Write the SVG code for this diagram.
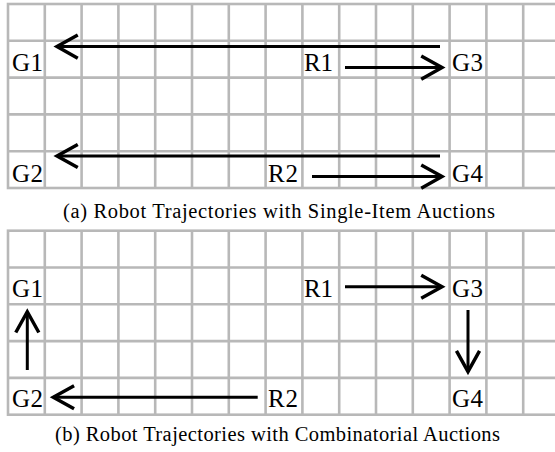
<svg xmlns="http://www.w3.org/2000/svg" width="555" height="452" viewBox="0 0 555 452">
  <style>
    .grid { fill: none; stroke: #b8b8b8; stroke-width: 2.6; }
    .arrow { fill: none; stroke: #000; stroke-width: 3; marker-end: url(#chev); }
  </style>
  <defs>
    <marker id="chev" markerUnits="userSpaceOnUse" markerWidth="30" markerHeight="30" viewBox="-22 -12 26 24" refX="0" refY="0" orient="auto">
      <path d="M-18,-10 L0,0 L-18,10" fill="none" stroke="#000" stroke-width="3" stroke-linejoin="miter"/>
    </marker>
    <!-- 15 x 5 cell board, 36.8 px cells -->
    <g id="board">
      <rect x="8" y="0" width="552" height="184" class="grid"/>
      <path class="grid" d="M44.8,0V184 M81.6,0V184 M118.4,0V184 M155.2,0V184 M192,0V184 M228.8,0V184 M265.6,0V184 M302.4,0V184 M339.2,0V184 M376,0V184 M412.8,0V184 M449.6,0V184 M486.4,0V184 M523.2,0V184 M8,36.8H560 M8,73.6H560 M8,110.4H560 M8,147.2H560"/>
    </g>
  </defs>
  <rect width="555" height="452" fill="#fff"/>

  <g font-family="Liberation Serif, Times New Roman, DejaVu Serif, serif" fill="#000">
    <!-- (a) single-item auctions -->
    <g id="gridA"><use href="#board" x="0" y="4"/></g>
    <g id="nodesA" font-size="25">
      <g id="a-G1"><text x="12" y="70.7" textLength="31">G1</text></g>
      <g id="a-R1"><text x="304" y="70.7" textLength="29">R1</text></g>
      <g id="a-G3"><text x="452" y="70.7" textLength="31">G3</text></g>
      <g id="a-G2"><text x="12" y="181.7" textLength="31">G2</text></g>
      <g id="a-R2"><text x="268" y="181.7" textLength="30">R2</text></g>
      <g id="a-G4"><text x="452" y="181.7" textLength="31">G4</text></g>
    </g>
    <g id="connectorsA">
      <path class="arrow" d="M440,46.6H57"/>
      <path class="arrow" d="M345,67.6H442"/>
      <path class="arrow" d="M440,156H57"/>
      <path class="arrow" d="M312,176.6H442"/>
    </g>
    <text x="63" y="218.3" font-size="20.5" textLength="432">(a) Robot Trajectories with Single-Item Auctions</text>

    <!-- (b) combinatorial auctions -->
    <g id="gridB"><use href="#board" x="0" y="230.7"/></g>
    <g id="nodesB" font-size="25">
      <g id="b-G1"><text x="12" y="296.7" textLength="31">G1</text></g>
      <g id="b-R1"><text x="304" y="296.7" textLength="29">R1</text></g>
      <g id="b-G3"><text x="452" y="296.7" textLength="31">G3</text></g>
      <g id="b-G2"><text x="12" y="407" textLength="31">G2</text></g>
      <g id="b-R2"><text x="268" y="407" textLength="30">R2</text></g>
      <g id="b-G4"><text x="452" y="407" textLength="31">G4</text></g>
    </g>
    <g id="connectorsB">
      <path class="arrow" d="M345,286.7H442"/>
      <path class="arrow" d="M468,310V371.7"/>
      <path class="arrow" d="M27.3,370V311.7"/>
      <path class="arrow" d="M257.7,397.3H53.3"/>
    </g>
    <text x="55" y="441.3" font-size="20.5" textLength="445">(b) Robot Trajectories with Combinatorial Auctions</text>
  </g>
</svg>
